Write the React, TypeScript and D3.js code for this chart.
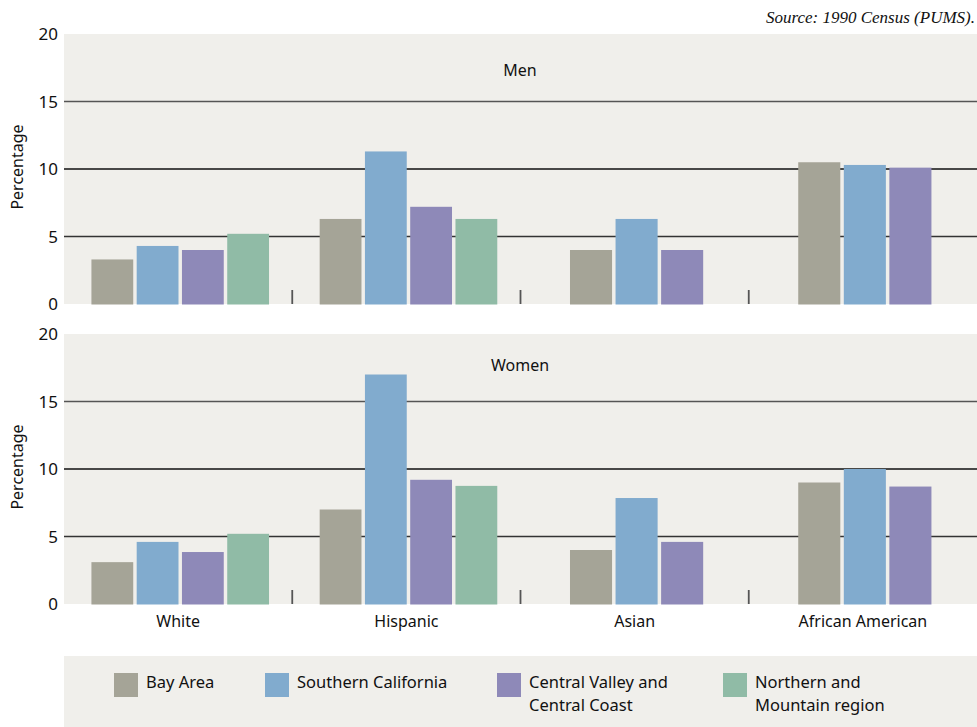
import React from "react";
import * as d3 from "d3";

const categories = ["White", "Hispanic", "Asian", "African American"];
const seriesNames = ["Bay Area", "Southern California", "Central Valley and Central Coast", "Northern and Mountain region"];
const legendLines = [["Bay Area"], ["Southern California"], ["Central Valley and", "Central Coast"], ["Northern and", "Mountain region"]];
const colors = ["#a5a497", "#81abce", "#8e89b8", "#90bba6"];
const yTicks = [0, 5, 10, 15, 20];

// values per category, per region (null = no bar)
const menBay = [3.3, 6.3, 4.0, 10.5];
const menSouth = [4.3, 11.3, 6.3, 10.3];
const menCentral = [4.0, 7.2, 4.0, 10.1];
const menNorth = [5.2, 6.3, null, null];

const womenBay = [3.1, 7.0, 4.0, 9.0];
const womenSouth = [4.6, 17.0, 7.85, 10.0];
const womenCentral = [3.85, 9.2, 4.6, 8.7];
const womenNorth = [5.2, 8.75, null, null];

const panels = [
  { title: "Men", series: [menBay, menSouth, menCentral, menNorth], top: 34, titleY: 42 },
  { title: "Women", series: [womenBay, womenSouth, womenCentral, womenNorth], top: 334, titleY: 37 },
];

const W = 977;
const H = 727;
const left = 64;
const right = 977;
const panelH = 270;
const font = "'Noto Sans', 'Liberation Sans', sans-serif";

export default function App() {
  const x = d3.scaleBand<string>().domain(categories).range([left, right]).paddingInner(0);
  const step = 44.4;
  const barW = 41;
  const gridColor: Record<number, string> = { 5: "#333", 10: "#111", 15: "#555" };

  return (
    <svg width={W} height={H} style={{ position: "absolute", left: 0, top: 0, background: "#fff" }}>
      <text x={975} y={23} textAnchor="end" fontFamily="'Liberation Serif', 'DejaVu Serif', serif" fontStyle="italic" fontSize={17} fill="#111">
        Source: 1990 Census (PUMS).
      </text>
      {panels.map((p) => {
        const y = d3.scaleLinear().domain([0, 20]).range([p.top + panelH, p.top]);
        return (
          <g key={p.title}>
            <rect x={left} y={p.top} width={right - left} height={panelH} fill="#f0efeb" />
            {yTicks.filter((t) => t > 0 && t < 20).map((t) => (
              <line key={t} x1={left} x2={right} y1={y(t)} y2={y(t)} stroke={gridColor[t]} strokeWidth={1.6} />
            ))}
            {yTicks.map((t) => (
              <text key={t} x={58} y={y(t)} dy="0.36em" textAnchor="end" fontFamily={font} fontSize={17} fill="#111">
                {t}
              </text>
            ))}
            <text
              transform={`translate(23,${y(10) - 2}) rotate(-90)`}
              textAnchor="middle"
              fontFamily={font}
              fontSize={16}
              fill="#111"
            >
              Percentage
            </text>
            <text x={520} y={p.top + p.titleY} textAnchor="middle" fontFamily={font} fontSize={16} fill="#111">
              {p.title}
            </text>
            {categories.slice(1).map((c) => (
              <line key={c} x1={x(c)!} x2={x(c)!} y1={y(0) - 14} y2={y(0)} stroke="#555" strokeWidth={1.8} />
            ))}
            {categories.map((c, ci) => {
              const present = p.series.map((s, si) => ({ v: s[ci], si })).filter((d) => d.v !== null);
              const n = present.length;
              const inner = d3
                .scaleBand<number>()
                .domain(present.map((d) => d.si))
                .range([0, n * step])
                .paddingInner((step - barW) / step)
                .paddingOuter(0);
              const groupW = (n - 1) * step + inner.bandwidth();
              const x0 = x(c)! + (x.bandwidth() - groupW) / 2 + 0.8;
              return (
                <g key={c}>
                  {present.map((d) => (
                    <rect
                      key={d.si}
                      x={x0 + inner(d.si)!}
                      y={y(d.v as number)}
                      width={inner.bandwidth()}
                      height={y(0) - y(d.v as number) + 0.5}
                      fill={colors[d.si]}
                    />
                  ))}
                </g>
              );
            })}
          </g>
        );
      })}
      {categories.map((c) => (
        <text key={c} x={x(c)! + x.bandwidth() / 2} y={627} textAnchor="middle" fontFamily={font} fontSize={16} fill="#111">
          {c}
        </text>
      ))}
      <rect x={left} y={656} width={right - left} height={H - 656} fill="#f0efeb" />
      {seriesNames.map((s, i) => {
        const lx = [114, 265, 497, 723][i];
        return (
          <g key={s}>
            <rect x={lx} y={673} width={24} height={24} fill={colors[i]} />
            {legendLines[i].map((ln, li) => (
              <text key={li} x={lx + 32} y={688 + li * 23} fontFamily={font} fontSize={16.5} fill="#111">
                {ln}
              </text>
            ))}
          </g>
        );
      })}
    </svg>
  );
}
